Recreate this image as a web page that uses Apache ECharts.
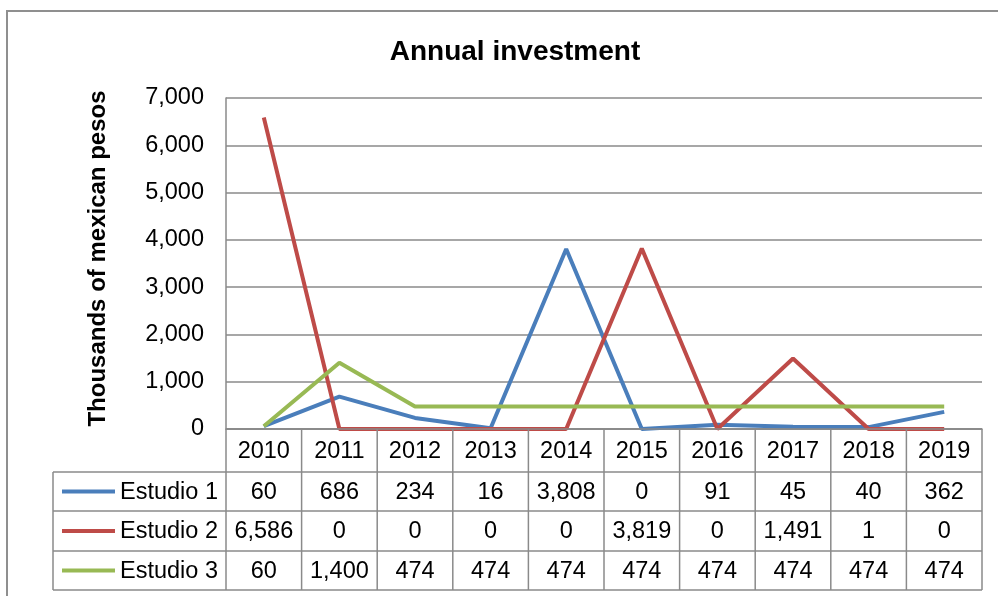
<!DOCTYPE html>
<html><head><meta charset="utf-8">
<script src="https://cdn.jsdelivr.net/npm/echarts@6/dist/echarts.min.js"></script>
<style>html,body{margin:0;padding:0;background:#fff}#c{width:998px;height:596px}</style>
</head><body><div id="c"></div>
<script>
var years = ['2010','2011','2012','2013','2014','2015','2016','2017','2018','2019'];
var seriesNames = ['Estudio 1','Estudio 2','Estudio 3'];
var estudio1 = [60, 686, 234, 16, 3808, 0, 91, 45, 40, 362];
var estudio2 = [6586, 0, 0, 0, 0, 3819, 0, 1491, 1, 0];
var estudio3 = [60, 1400, 474, 474, 474, 474, 474, 474, 474, 474];
var colors = ['#4A7EBB', '#BE4B48', '#98B954'];
var FONT = '"Liberation Sans", Arial, sans-serif';
var GRAY = '#8a8a8a';

var chart = echarts.init(document.getElementById('c'), null, {renderer:'canvas'});
var allSeries = [estudio1, estudio2, estudio3];
var option = {
  animation:false,
  backgroundColor:'#fff',
  title:{text:'Annual investment', left:510, top:33, textAlign:'center',
    textStyle:{fontFamily:FONT, fontWeight:'bold', fontSize:28, color:'#000'}},
  grid:{left:226, right:16, top:98, bottom:167, containLabel:false},
  xAxis:{type:'category', data:years, boundaryGap:true,
    axisLine:{show:true, lineStyle:{color:GRAY, width:1.5}},
    axisTick:{show:false}, axisLabel:{show:false}, splitLine:{show:false}},
  yAxis:{type:'value', min:0, max:7000, interval:1000,
    name:'Thousands of mexican pesos', nameLocation:'middle', nameGap:116, nameRotate:90,
    nameTextStyle:{fontFamily:FONT, fontWeight:'bold', fontSize:24, color:'#000', padding:[0,0,0,10]},
    axisLine:{show:true, lineStyle:{color:GRAY, width:1.5}},
    axisTick:{show:false},
    axisLabel:{fontFamily:FONT, fontSize:23.5, color:'#000', margin:22,
      formatter:function(v){return v.toLocaleString('en-US');}},
    splitLine:{show:true, lineStyle:{color:GRAY, width:1.5}}},
  series: allSeries.map(function(d,i){
    return {name:seriesNames[i], type:'line', data:d, symbol:'none', smooth:false,
      lineStyle:{color:colors[i], width:4}, itemStyle:{color:colors[i]}, z:3};
  })
};
chart.setOption(option);

// Build data table beneath the axis
var g = [];
var c0 = chart.convertToPixel({xAxisIndex:0}, 0);
var c1 = chart.convertToPixel({xAxisIndex:0}, 1);
var bw = c1 - c0;
var y0 = chart.convertToPixel({yAxisIndex:0}, 0);
var rowTops = [y0, y0+43, y0+82, y0+122, y0+161];
var leftData = c0 - bw/2;
var rightData = leftData + bw*years.length;
var legendLeft = 53;
function line(x1,y1,x2,y2){
  g.push({type:'line', shape:{x1:x1,y1:y1,x2:x2,y2:y2}, style:{stroke:GRAY, lineWidth:1.5}, z:10});
}
// outer chart border
g.push({type:'rect', shape:{x:7, y:11, width:1000, height:600}, style:{fill:null, stroke:'#8f8f8f', lineWidth:2}, z:1});
// horizontal lines
line(leftData, rowTops[0], rightData, rowTops[0]);
line(legendLeft, rowTops[1], rightData, rowTops[1]);
line(legendLeft, rowTops[2], rightData, rowTops[2]);
line(legendLeft, rowTops[3], rightData, rowTops[3]);
line(legendLeft, rowTops[4], rightData, rowTops[4]);
// vertical lines
for (var k=0;k<=years.length;k++){
  var xx = leftData + bw*k;
  line(xx, rowTops[0], xx, rowTops[4]);
}
line(legendLeft, rowTops[1], legendLeft, rowTops[4]);
// header labels
years.forEach(function(yr,i){
  var cx = chart.convertToPixel({xAxisIndex:0}, i);
  g.push({type:'text', x:cx, y:(rowTops[0]+rowTops[1])/2+1, style:{text:yr, fill:'#000', font:'23.5px '+FONT, textAlign:'center', textVerticalAlign:'middle'}, z:11});
});
// rows
allSeries.forEach(function(d,r){
  var cy = (rowTops[r+1]+rowTops[r+2])/2+1;
  g.push({type:'line', shape:{x1:62,y1:cy-1,x2:115,y2:cy-1}, style:{stroke:colors[r], lineWidth:4}, z:11});
  g.push({type:'text', x:120, y:cy, style:{text:seriesNames[r], fill:'#000', font:'23.5px '+FONT, textAlign:'left', textVerticalAlign:'middle'}, z:11});
  d.forEach(function(v,i){
    var cx = chart.convertToPixel({xAxisIndex:0}, i);
    g.push({type:'text', x:cx, y:cy, style:{text:v.toLocaleString('en-US'), fill:'#000', font:'23.5px '+FONT, textAlign:'center', textVerticalAlign:'middle'}, z:11});
  });
});
chart.setOption({graphic:g});
</script>
</body></html>
